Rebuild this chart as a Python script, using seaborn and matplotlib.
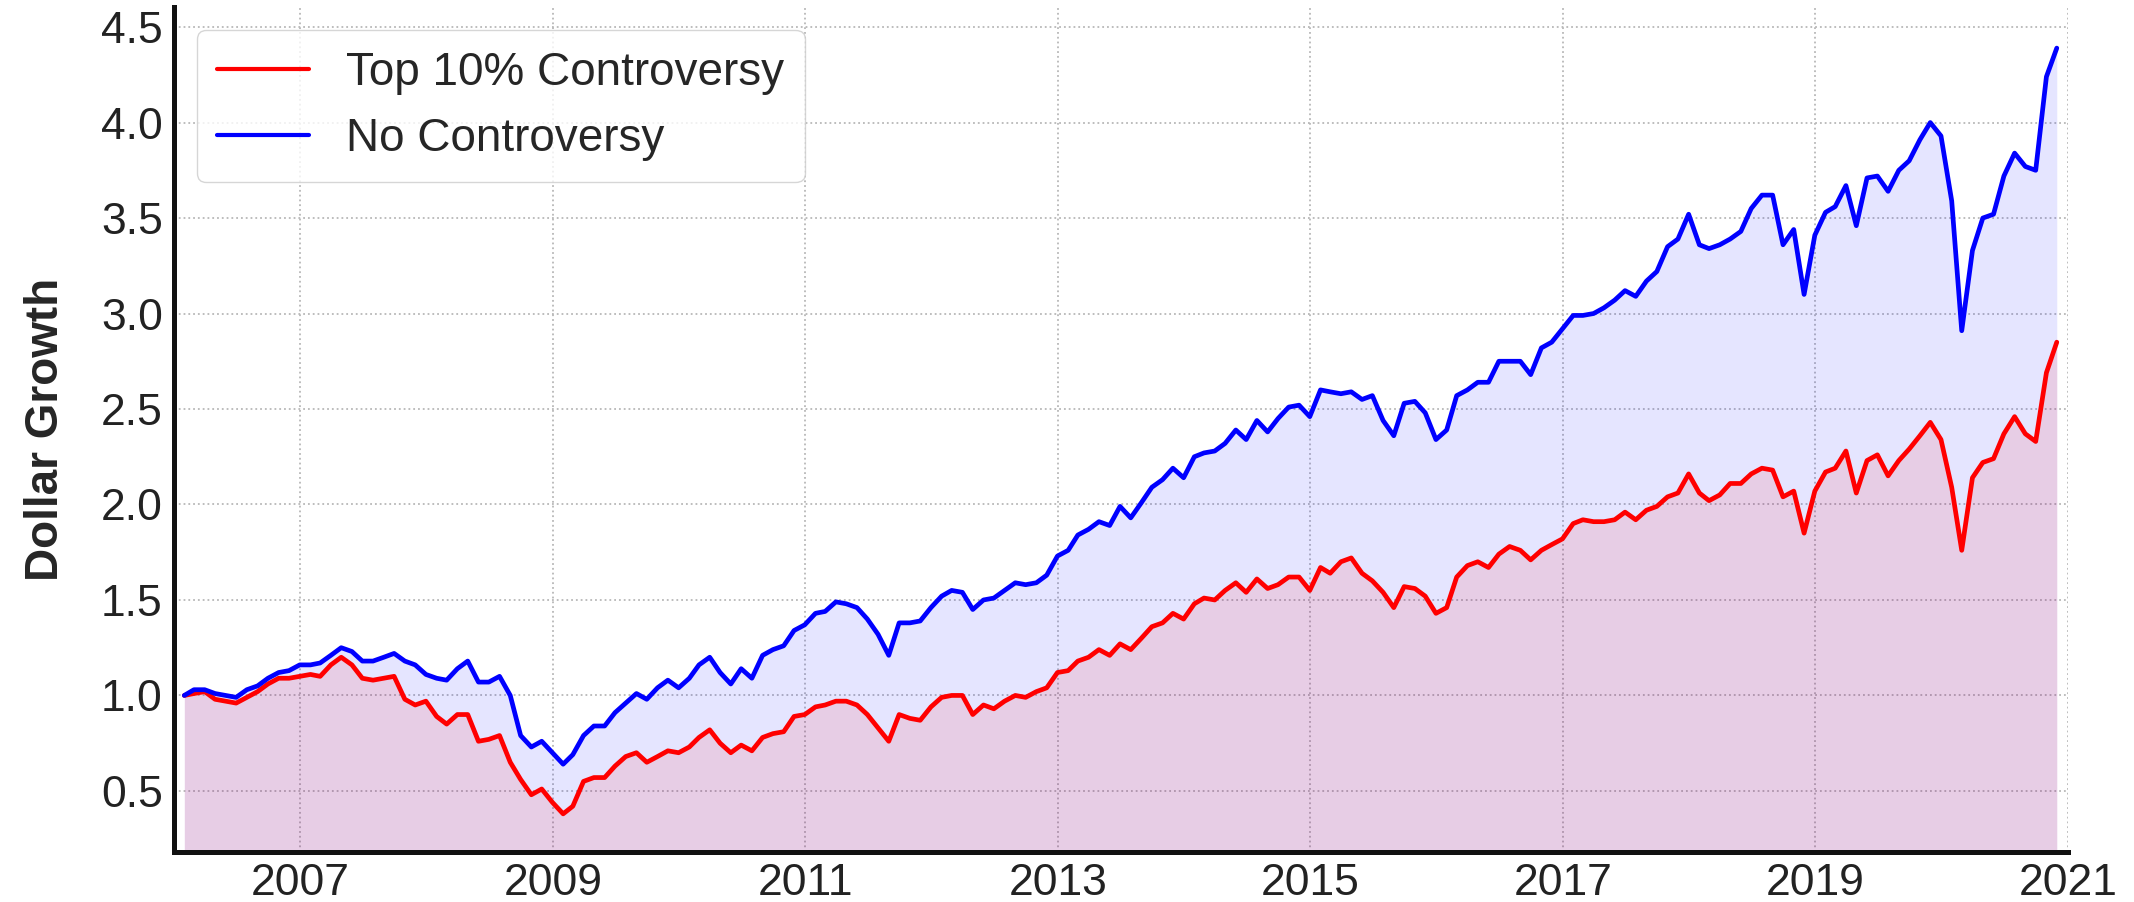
import pandas as pd
import matplotlib
matplotlib.use("Agg")
import matplotlib.pyplot as plt
import seaborn as sns

# monthly dollar growth, Jan 2006 - Nov 2020
no_controversy = [
    1.00, 1.03, 1.03, 1.01, 1.00, 0.99, 1.03, 1.05, 1.09, 1.12,
    1.13, 1.16, 1.16, 1.17, 1.21, 1.25, 1.23, 1.18, 1.18, 1.20,
    1.22, 1.18, 1.16, 1.11, 1.09, 1.08, 1.14, 1.18, 1.07, 1.07,
    1.10, 1.00, 0.79, 0.73, 0.76, 0.70, 0.64, 0.69, 0.79, 0.84,
    0.84, 0.91, 0.96, 1.01, 0.98, 1.04, 1.08, 1.04, 1.09, 1.16,
    1.20, 1.12, 1.06, 1.14, 1.09, 1.21, 1.24, 1.26, 1.34, 1.37,
    1.43, 1.44, 1.49, 1.48, 1.46, 1.40, 1.32, 1.21, 1.38, 1.38,
    1.39, 1.46, 1.52, 1.55, 1.54, 1.45, 1.50, 1.51, 1.55, 1.59,
    1.58, 1.59, 1.63, 1.73, 1.76, 1.84, 1.87, 1.91, 1.89, 1.99,
    1.93, 2.01, 2.09, 2.13, 2.19, 2.14, 2.25, 2.27, 2.28, 2.32,
    2.39, 2.34, 2.44, 2.38, 2.45, 2.51, 2.52, 2.46, 2.60, 2.59,
    2.58, 2.59, 2.55, 2.57, 2.44, 2.36, 2.53, 2.54, 2.48, 2.34,
    2.39, 2.57, 2.60, 2.64, 2.64, 2.75, 2.75, 2.75, 2.68, 2.82,
    2.85, 2.92, 2.99, 2.99, 3.00, 3.03, 3.07, 3.12, 3.09, 3.17,
    3.22, 3.35, 3.39, 3.52, 3.36, 3.34, 3.36, 3.39, 3.43, 3.55,
    3.62, 3.62, 3.36, 3.44, 3.10, 3.41, 3.53, 3.56, 3.67, 3.46,
    3.71, 3.72, 3.64, 3.75, 3.80, 3.91, 4.00, 3.93, 3.59, 2.91,
    3.33, 3.50, 3.52, 3.72, 3.84, 3.77, 3.75, 4.24, 4.39,
]

top10_controversy = [
    1.00, 1.01, 1.02, 0.98, 0.97, 0.96, 0.99, 1.02, 1.06, 1.09,
    1.09, 1.10, 1.11, 1.10, 1.16, 1.20, 1.16, 1.09, 1.08, 1.09,
    1.10, 0.98, 0.95, 0.97, 0.89, 0.85, 0.90, 0.90, 0.76, 0.77,
    0.79, 0.65, 0.56, 0.48, 0.51, 0.44, 0.38, 0.42, 0.55, 0.57,
    0.57, 0.63, 0.68, 0.70, 0.65, 0.68, 0.71, 0.70, 0.73, 0.78,
    0.82, 0.75, 0.70, 0.74, 0.71, 0.78, 0.80, 0.81, 0.89, 0.90,
    0.94, 0.95, 0.97, 0.97, 0.95, 0.90, 0.83, 0.76, 0.90, 0.88,
    0.87, 0.94, 0.99, 1.00, 1.00, 0.90, 0.95, 0.93, 0.97, 1.00,
    0.99, 1.02, 1.04, 1.12, 1.13, 1.18, 1.20, 1.24, 1.21, 1.27,
    1.24, 1.30, 1.36, 1.38, 1.43, 1.40, 1.48, 1.51, 1.50, 1.55,
    1.59, 1.54, 1.61, 1.56, 1.58, 1.62, 1.62, 1.55, 1.67, 1.64,
    1.70, 1.72, 1.64, 1.60, 1.54, 1.46, 1.57, 1.56, 1.52, 1.43,
    1.46, 1.62, 1.68, 1.70, 1.67, 1.74, 1.78, 1.76, 1.71, 1.76,
    1.79, 1.82, 1.90, 1.92, 1.91, 1.91, 1.92, 1.96, 1.92, 1.97,
    1.99, 2.04, 2.06, 2.16, 2.06, 2.02, 2.05, 2.11, 2.11, 2.16,
    2.19, 2.18, 2.04, 2.07, 1.85, 2.07, 2.17, 2.19, 2.28, 2.06,
    2.23, 2.26, 2.15, 2.23, 2.29, 2.36, 2.43, 2.34, 2.09, 1.76,
    2.14, 2.22, 2.24, 2.37, 2.46, 2.37, 2.33, 2.69, 2.85,
]

dates = pd.date_range("2006-01-31", periods=len(no_controversy), freq="ME")
tick_years = ["2007", "2009", "2011", "2013", "2015", "2017", "2019", "2021"]
y_ticks = [0.5, 1.0, 1.5, 2.0, 2.5, 3.0, 3.5, 4.0, 4.5]

sns.set_style("whitegrid", {"grid.linestyle": ":", "grid.color": "#b8b8b8"})
plt.rcParams["font.family"] = ["Liberation Sans", "DejaVu Sans"]

fig = plt.figure(figsize=(21.34, 9.02), dpi=100)
ax = fig.add_axes([0.0815, 0.0554, 0.8875, 0.9368])

sns.lineplot(x=dates, y=top10_controversy, color="red", linewidth=3.4,
             label="Top 10% Controversy", ax=ax)
sns.lineplot(x=dates, y=no_controversy, color="blue", linewidth=3.4,
             label="No Controversy", ax=ax)
ax.fill_between(dates, no_controversy, color="blue", alpha=0.1, linewidth=0)
ax.fill_between(dates, top10_controversy, color="red", alpha=0.1, linewidth=0)

ax.set_xlim(pd.Timestamp("2006-01-01"), pd.Timestamp("2021-01-01"))
ax.set_ylim(0.18, 4.605)
ax.set_xticks(pd.to_datetime(tick_years))
ax.set_xticklabels(tick_years)
ax.set_yticks(y_ticks)
ax.tick_params(axis="both", labelsize=32, length=0, pad=8, colors="#222222")
ax.grid(True, linestyle=":", linewidth=1.3, color="#b8b8b8")

for side in ["top", "right"]:
    ax.spines[side].set_visible(False)
for side in ["left", "bottom"]:
    ax.spines[side].set_color("#111111")
    ax.spines[side].set_linewidth(3.6)

ax.set_xlabel("")
ax.set_ylabel("Dollar Growth", fontsize=33, fontweight="bold", labelpad=24)

leg = ax.legend(loc="upper left", fontsize=33, frameon=True, labelspacing=0.5,
                handlelength=2.0, borderpad=0.45, borderaxespad=0.5)
leg.get_frame().set_edgecolor("#cccccc")
for line in leg.get_lines():
    line.set_linewidth(3)

fig.savefig("out.png", dpi=100)
